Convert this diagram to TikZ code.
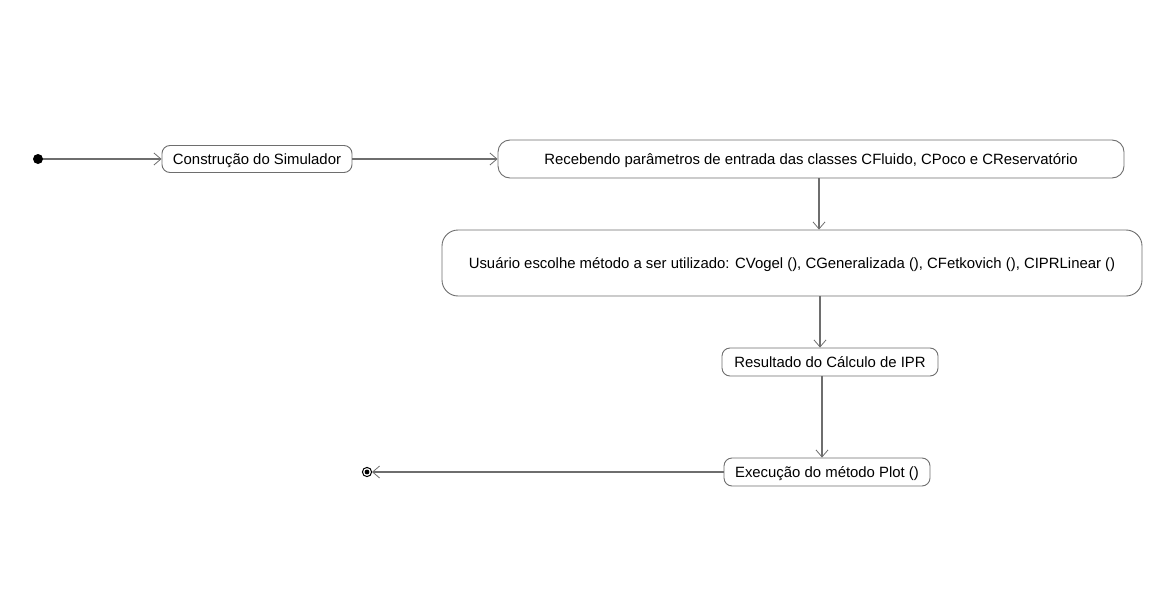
\documentclass[tikz,border=0pt]{standalone}
\usepackage{fontspec}
\setmainfont{Liberation Sans}
\usetikzlibrary{arrows.meta}

\definecolor{linegray}{RGB}{110,110,110}

\tikzset{
  action/.style={draw=linegray, line width=0.9pt, rounded corners=8pt, fill=white,
    font=\fontsize{14.9}{17}\selectfont, inner sep=0pt, text height=10.7pt, text depth=0pt, anchor=center},
  flow/.style={draw=linegray, line width=1.2pt, -{Straight Barb[length=7pt,width=12pt,line width=0.8pt]}}
}

\begin{document}
\begin{tikzpicture}[x=1pt, y=-1pt]
  \useasboundingbox (0,0) rectangle (1170,602);

  % Start and end
  \coordinate (start) at (38,159);
  \coordinate (stop) at (367,472);

  % Actions
  \node[action, minimum width=190pt, minimum height=27pt] (build) at (257,159) {Construção do Simulador};
  \node[action, minimum width=626pt, minimum height=38pt, rounded corners=12pt] (input) at (811,159)
    {Recebendo parâmetros de entrada das classes CFluido, CPoco e CReservatório};
  \node[action, minimum width=700pt, minimum height=66pt, rounded corners=16pt] (method) at (792,263)
    {Usuário escolhe método a ser utilizado: CVogel (), CGeneralizada (), CFetkovich (), CIPRLinear ()};
  \node[action, minimum width=216pt, minimum height=28pt] (result) at (830,362) {Resultado do Cálculo de IPR};
  \node[action, minimum width=206pt, minimum height=28pt] (plot) at (827,472) {Execução do método Plot ()};

  % Transitions
  \draw[flow] (start) -- (build.west);
  \draw[flow] (build.east) -- (input.west);
  \draw[flow] (input.south -| 819,0) -- (method.north -| 819,0);
  \draw[flow] (method.south -| 820,0) -- (result.north -| 820,0);
  \draw[flow] (result.south -| 822,0) -- (plot.north -| 822,0);
  \draw[flow] (plot.west) -- ([xshift=5pt]stop);

  \fill[black] (start) circle (5pt);
  \filldraw[fill=white, draw=black, line width=1pt] (stop) circle (4.6pt);
  \fill[black] (stop) circle (2.4pt);
\end{tikzpicture}
\end{document}
